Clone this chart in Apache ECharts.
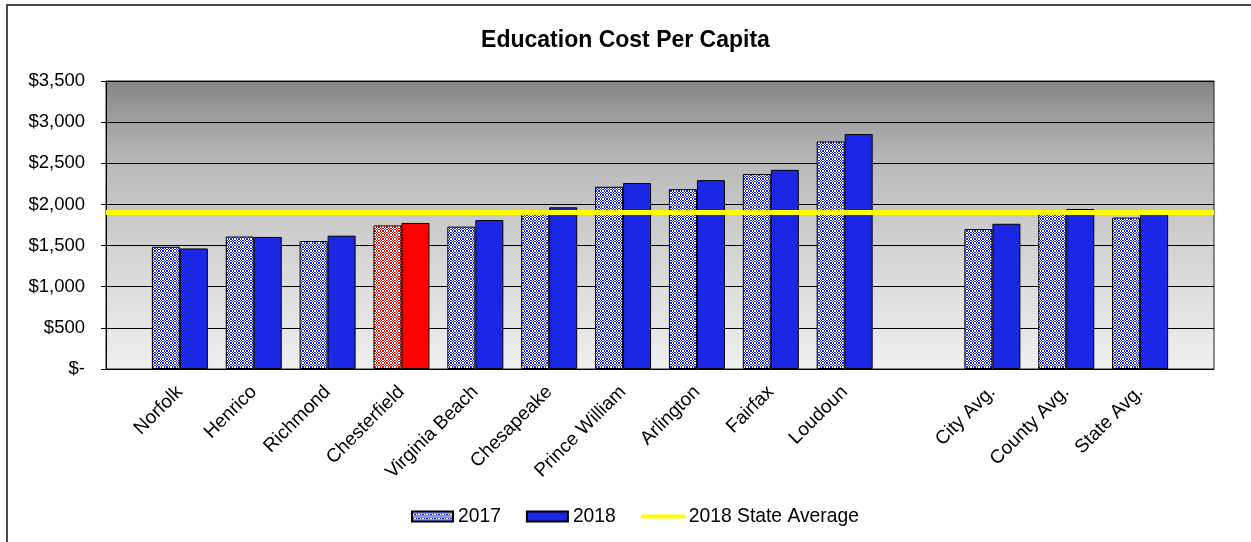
<!DOCTYPE html>
<html>
<head>
<meta charset="utf-8">
<title>Education Cost Per Capita</title>
<script src="https://cdn.jsdelivr.net/npm/echarts@6/dist/echarts.min.js"></script>
<style>
  html, body { margin: 0; padding: 0; background: #ffffff; }
  #chart { width: 1251px; height: 542px; }
</style>
</head>
<body>
<div id="chart"></div>
<script>
// Localities in display order; empty strings are spacer slots on the axis.
const categories = ['', 'Norfolk', 'Henrico', 'Richmond', 'Chesterfield', 'Virginia Beach',
  'Chesapeake', 'Prince William', 'Arlington', 'Fairfax', 'Loudoun', '',
  'City Avg.', 'County Avg.', 'State Avg.', ''];

// Education cost per capita, in dollars
const cost2017 = [null, 1485, 1610, 1555, 1745, 1730, 1930, 2215, 2185, 2370, 2765, null, 1700, 1890, 1840, null];
const cost2018 = [null, 1465, 1605, 1620, 1775, 1810, 1965, 2260, 2295, 2420, 2855, null, 1765, 1945, 1900, null];

// 2018 statewide average
const stateAvg2018 = 1900;

// Locality shown in red
const highlight = 'Chesterfield';

const yTicks = { min: 0, max: 3500, interval: 500 };

const BLUE = '#1a28e6';
const RED = '#ff0000';
const YELLOW = '#ffff00';

// Fine checkerboard fill (colour / white) used for the 2017 bars
function checker(color) {
  const c = document.createElement('canvas');
  c.width = 8; c.height = 8;
  const g = c.getContext('2d');
  const edges = [0, 1, 2, 4, 5, 6, 8];
  g.fillStyle = '#ffffff';
  g.fillRect(0, 0, 8, 8);
  g.fillStyle = color;
  for (let i = 0; i < 6; i++) {
    for (let j = 0; j < 6; j++) {
      if ((i + j) % 2 === 0) {
        g.fillRect(edges[i], edges[j], edges[i + 1] - edges[i], edges[j + 1] - edges[j]);
      }
    }
  }
  return { image: c, repeat: 'repeat' };
}

const bluePattern = checker(BLUE);
const redPattern = checker(RED);

function withHighlight(values, hiColor) {
  return values.map((v, i) => categories[i] === highlight
    ? { value: v, itemStyle: { color: hiColor } }
    : v);
}

const FONT = 'Liberation Sans, Arial, sans-serif';

const chart = echarts.init(document.getElementById('chart'), null, { renderer: 'canvas' });

chart.setOption({
  animation: false,
  backgroundColor: '#ffffff',
  textStyle: { fontFamily: FONT },
  graphic: [{
    type: 'rect',
    shape: { x: 7, y: 5, width: 1300, height: 538 },
    style: { fill: 'none', stroke: '#4a4a4a', lineWidth: 2 },
    silent: true,
    z: -1
  }],
  title: {
    text: 'Education Cost Per Capita',
    left: 'center',
    top: 24,
    textStyle: { fontFamily: FONT, fontSize: 23, fontWeight: 'bold', color: '#000' }
  },
  legend: {
    left: 406,
    top: 502,
    itemWidth: 41,
    itemHeight: 10,
    itemGap: 25,
    textStyle: { fontFamily: FONT, fontSize: 19.3, color: '#000', lineHeight: 18 },
    data: [
      { name: '2017', icon: 'rect' },
      { name: '2018', icon: 'rect' },
      {
        name: '2018 State Average',
        itemStyle: { opacity: 0 },
        lineStyle: { color: YELLOW, width: 4, cap: 'round' }
      }
    ]
  },
  grid: {
    left: 106,
    right: 37,
    top: 81,
    bottom: 173,
    show: true,
    borderColor: '#222',
    borderWidth: 1,
    backgroundColor: {
      type: 'linear', x: 0, y: 0, x2: 0, y2: 1,
      colorStops: [
        { offset: 0, color: '#858585' },
        { offset: 0.15, color: '#a2a2a2' },
        { offset: 0.3, color: '#bbbbbb' },
        { offset: 0.45, color: '#c7c7c7' },
        { offset: 0.7, color: '#dcdcdc' },
        { offset: 0.86, color: '#e6e6e6' },
        { offset: 1, color: '#f0f0f0' }
      ]
    }
  },
  xAxis: {
    type: 'category',
    data: categories,
    boundaryGap: false,
    axisLine: { lineStyle: { color: '#000', width: 1 } },
    axisTick: { show: false },
    splitLine: { show: false },
    axisLabel: {
      interval: 0,
      rotate: 45,
      margin: 20,
      fontFamily: FONT,
      fontSize: 19,
      color: '#000'
    }
  },
  yAxis: {
    type: 'value',
    min: yTicks.min,
    max: yTicks.max,
    interval: yTicks.interval,
    axisLine: { show: true, lineStyle: { color: '#000', width: 1 } },
    axisTick: { show: true, length: 5, lineStyle: { color: '#000' } },
    splitLine: { show: true, lineStyle: { color: '#000', width: 1 } },
    axisLabel: {
      margin: 21,
      fontFamily: FONT,
      fontSize: 18.5,
      color: '#000',
      formatter: v => v === 0 ? '$-' : '$' + v.toLocaleString('en-US')
    }
  },
  series: [
    {
      name: '2017',
      type: 'bar',
      barWidth: 28,
      barGap: '0%',
      data: withHighlight(cost2017, redPattern),
      itemStyle: { color: bluePattern, borderColor: '#000', borderWidth: 1 }
    },
    {
      name: '2018',
      type: 'bar',
      barWidth: 28,
      barGap: '0%',
      data: withHighlight(cost2018, RED),
      itemStyle: { color: BLUE, borderColor: '#000', borderWidth: 1 }
    },
    {
      name: '2018 State Average',
      type: 'line',
      data: [],
      symbol: 'none',
      itemStyle: { color: YELLOW },
      lineStyle: { color: YELLOW, width: 4, cap: 'round' },
      markLine: {
        silent: true,
        symbol: 'none',
        label: { show: false },
        lineStyle: { color: YELLOW, width: 5, type: 'solid', cap: 'butt' },
        data: [{ yAxis: stateAvg2018 }]
      }
    }
  ]
});
</script>
</body>
</html>
